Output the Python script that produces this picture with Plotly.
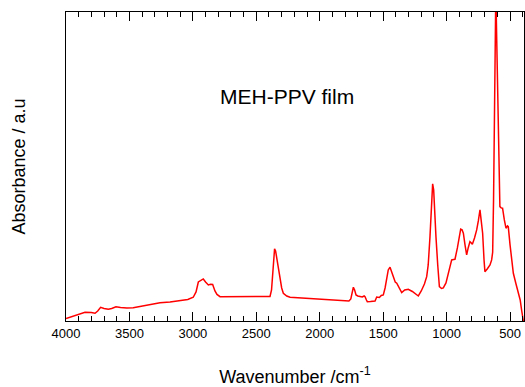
import plotly.graph_objects as go

# Wavenumber (cm^-1) and absorbance (arbitrary units)
wavenumber = [
    4000, 3950, 3900, 3850, 3800, 3771, 3750, 3727, 3700, 3666, 3640, 3606, 3570, 3520,
    3470, 3400, 3330, 3259, 3180, 3101, 3040, 2997, 2975, 2957, 2940, 2918, 2900, 2878,
    2860, 2844, 2826, 2810, 2786, 2700, 2600, 2500, 2420, 2392, 2380, 2366, 2356, 2348,
    2340, 2334, 2325, 2313, 2300, 2287, 2260, 2234, 2100, 2000, 1919, 1840, 1800, 1770,
    1755, 1745, 1735, 1725, 1714, 1700, 1683, 1665, 1650, 1643, 1632, 1625, 1600, 1580,
    1564, 1551, 1530, 1515, 1499, 1485, 1472, 1460, 1446, 1432, 1420, 1405, 1393, 1375,
    1354, 1330, 1302, 1270, 1240, 1223, 1200, 1175, 1157, 1145, 1131, 1120, 1110, 1102,
    1095, 1084, 1070, 1057, 1040, 1026, 1005, 986, 970, 960, 945, 934, 915, 900, 889,
    878, 868, 855, 842, 830, 816, 805, 797, 780, 763, 750, 737, 728, 716, 705, 698, 680,
    658, 645, 637, 630, 622, 617, 612, 605, 598, 593, 588, 580, 570, 559, 545, 532, 520,
    514, 500, 485, 474, 455, 435, 420, 409, 400, 396, 390,
]
absorbance = [
    0.0025, 0.0045, 0.0065, 0.0087, 0.0085, 0.0077, 0.0100, 0.0137, 0.0125, 0.0117, 0.0125,
    0.0143, 0.0135, 0.0130, 0.0133, 0.0150, 0.0165, 0.0182, 0.0190, 0.0200, 0.0215, 0.0237,
    0.0290, 0.0390, 0.0405, 0.0420, 0.0390, 0.0360, 0.0367, 0.0365, 0.0300, 0.0265, 0.0243,
    0.0242, 0.0243, 0.0241, 0.0241, 0.0245, 0.0310, 0.0577, 0.0720, 0.0700, 0.0630, 0.0617,
    0.0530, 0.0443, 0.0330, 0.0277, 0.0250, 0.0237, 0.0225, 0.0217, 0.0215, 0.0203, 0.0200,
    0.0200, 0.0220, 0.0280, 0.0337, 0.0310, 0.0260, 0.0250, 0.0243, 0.0240, 0.0250, 0.0243,
    0.0210, 0.0193, 0.0195, 0.0195, 0.0200, 0.0240, 0.0235, 0.0255, 0.0260, 0.0330, 0.0443,
    0.0510, 0.0537, 0.0490, 0.0443, 0.0390, 0.0377, 0.0330, 0.0283, 0.0310, 0.0317, 0.0295,
    0.0265, 0.0250, 0.0300, 0.0370, 0.0443, 0.0560, 0.0843, 0.1210, 0.1370, 0.1310, 0.1060,
    0.0843, 0.0560, 0.0343, 0.0325, 0.0330, 0.0380, 0.0477, 0.0560, 0.0610, 0.0615, 0.0617,
    0.0730, 0.0860, 0.0917, 0.0910, 0.0877, 0.0760, 0.0660, 0.0730, 0.0793, 0.0780, 0.0767,
    0.0830, 0.0910, 0.1000, 0.1110, 0.1010, 0.0877, 0.0610, 0.0493, 0.0520, 0.0560, 0.0610,
    0.0687, 0.1210, 0.2010, 0.2810, 0.3300, 0.2810, 0.2360, 0.2210, 0.1710, 0.1143, 0.1130,
    0.1127, 0.1010, 0.0927, 0.0950, 0.0943, 0.0760, 0.0580, 0.0477, 0.0380, 0.0277, 0.0210,
    0.0110, 0.0050, -0.0007, -0.0040,
]

x_tick_step = 500
x_minor_step = 100
y_range = [0, 0.3087]

font_family = "Liberation Sans"

fig = go.Figure()
fig.add_trace(go.Scatter(
    x=wavenumber, y=absorbance, mode="lines",
    line=dict(color="red", width=1.5),
    showlegend=False,
))

fig.update_layout(
    width=525, height=387,
    margin=dict(l=66, r=1, t=12, b=66),
    plot_bgcolor="white",
    xaxis=dict(
        range=[4000, 390], dtick=x_tick_step,
        ticks="inside", ticklen=9, tickcolor="black",
        showline=True, linecolor="black", mirror="allticks", showgrid=False,
        minor=dict(dtick=x_minor_step, ticks="inside", ticklen=5, tickcolor="black"),
        tickfont=dict(size=13, family=font_family, color="black"),
        title=dict(text="Wavenumber /cm<sup>-1</sup>",
                   font=dict(size=18, family=font_family, color="black"), standoff=32),
    ),
    yaxis=dict(
        range=y_range,
        showline=True, linecolor="black", mirror=True, showgrid=False, ticks="",
        showticklabels=False,
        title=dict(text="Absorbance / a.u",
                   font=dict(size=18, family=font_family, color="black"), standoff=34),
    ),
    annotations=[dict(
        text="MEH-PPV film", xref="paper", yref="paper", x=0.4825, y=0.728,
        xanchor="center", yanchor="middle", showarrow=False,
        font=dict(size=21, family=font_family, color="black"),
    )],
)

fig.write_html(
    "out.html",
    config={"displayModeBar": False},
    post_script="document.body.style.margin='0';document.body.style.overflow='hidden';",
)
